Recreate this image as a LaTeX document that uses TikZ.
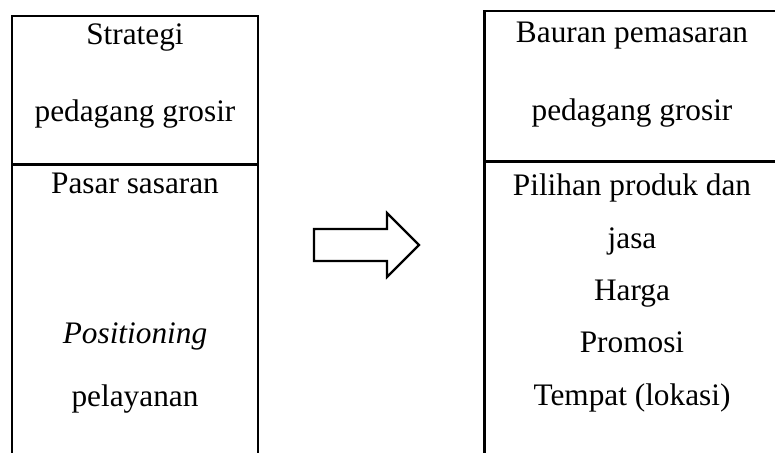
\documentclass[tikz,border=0pt]{standalone}
\usepackage{fontspec}
\setmainfont{Liberation Serif}
\begin{document}
\begin{tikzpicture}[x=1pt,y=-1pt,
  frame/.style={line width=2.2pt, line cap=rect},
  label/.style={font=\fontsize{31.3}{31.3}\selectfont, anchor=base, inner sep=0pt},
  bigarrow/.style={line width=2.2pt, line join=miter}]
  \useasboundingbox (0,0) rectangle (775,452);

  % left panel: strategy of the wholesaler
  \draw[frame] (12,452) -- (12,16) -- (258,16) -- (258,452);
  \draw[frame] (12,164.5) -- (258,164.5);
  \node[label] (s1) at (135,45) {Strategi};
  \node[label] (s2) at (135,121) {pedagang grosir};
  \node[label] (s3) at (135,193) {Pasar sasaran};
  \node[label] (s4) at (135,343) {\textit{Positioning}};
  \node[label] (s5) at (135,406) {pelayanan};

  % right panel: marketing mix of the wholesaler
  \draw[frame] (484.5,452) -- (484.5,11) -- (775,11);
  \draw[frame] (484.5,161.5) -- (775,161.5);
  \node[label] (m1) at (632,42) {Bauran pemasaran};
  \node[label] (m2) at (632,120) {pedagang grosir};
  \node[label] (m3) at (632,195) {Pilihan produk dan};
  \node[label] (m4) at (632,248) {jasa};
  \node[label] (m5) at (632,300) {Harga};
  \node[label] (m6) at (632,352) {Promosi};
  \node[label] (m7) at (632,405) {Tempat (lokasi)};

  % block arrow between the panels
  \draw[bigarrow] (314,229) -- (387,229) -- (387,213) -- (419,245)
    -- (387,277) -- (387,261) -- (314,261) -- cycle;
\end{tikzpicture}
\end{document}
